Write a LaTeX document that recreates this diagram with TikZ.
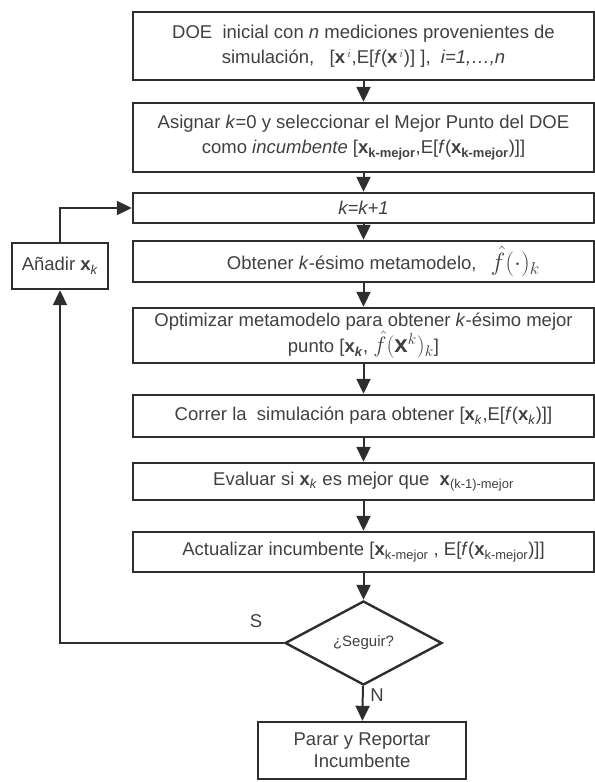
\documentclass[tikz,border=0pt]{standalone}
\usepackage{graphicx}
\usepackage{fontspec}
\setmainfont{Liberation Sans}
\usetikzlibrary{arrows.meta,shapes.geometric}
\definecolor{ln}{HTML}{2e2e2e}
\definecolor{tx}{HTML}{404040}
\newcommand{\bx}{\textbf{x}}
\begin{document}
\begin{tikzpicture}[x=1bp,y=-1bp,
  every node/.style={text=tx,font=\fontsize{18.5bp}{25bp}\selectfont},
  mainbox/.style={draw=ln,line width=2.4bp,minimum width=461bp,inner sep=1bp,align=center},
  sidebox/.style={draw=ln,line width=2.4bp,inner sep=1bp,align=center},
  conn/.style={draw=ln,line width=2bp,-{Triangle[length=15bp,width=14bp]}}]
\useasboundingbox (0,0) rectangle (595,782);
\node[mainbox,minimum height=68bp] (b1) at (363.5,46) {DOE\ \ inicial con \textit{n} mediciones provenientes de\\simulación,\ \ \ [\bx$^{\,i}$,E[\textit{f}(\bx$^{\,i}$)] ],\ \ \textit{i=1,…,n}};
\node[mainbox,minimum height=69bp] (b2) at (363.5,137.5) {Asignar\ \textit{k}=0 y seleccionar el Mejor Punto del DOE\\como \textit{incumbente} [\bx\textsubscript{\textbf{k-mejor}},E[\textit{f}(\bx\textsubscript{\textbf{k-mejor}})]]};
\node[mainbox,minimum height=30bp] (b3) at (363.5,208) {\textit{k=k+1}};
\node[mainbox,minimum height=41bp] (b4) at (363.5,261.5) {\hspace*{40bp}Obtener \textit{k}-ésimo metamodelo,\hspace{14bp}\raisebox{-1bp}{\scalebox{1.45}{$\hat{f}(\cdot)_k$}}};
\node[mainbox,minimum height=55bp] (b5) at (363.5,335.5) {Optimizar metamodelo para obtener \textit{k}-ésimo mejor\\punto [\bx\textsubscript{\textbf{\textit{k}}}, \scalebox{1.3}{$\hat{f}(\mathbf{x}^{k})_k$}]};
\node[mainbox,minimum height=42bp] (b6) at (363.5,416) {Correr la\ \ simulación para obtener [\bx\textsubscript{\textit{k}},E[\textit{f}(\bx\textsubscript{\textit{k}})]]};
\node[mainbox,minimum height=37bp] (b7) at (363.5,481.5) {Evaluar si \bx\textsubscript{\textit{k}} es mejor que\ \ \bx\textsubscript{(k-1)-mejor}};
\node[mainbox,minimum height=40bp] (b8) at (363.5,552) {Actualizar incumbente [\bx\textsubscript{k-mejor} , E[\textit{f}(\bx\textsubscript{k-mejor})]]};
\node[draw=ln,line width=2.4bp,shape=diamond,minimum width=157bp,minimum height=84bp,inner sep=0pt,font=\fontsize{15bp}{17bp}\selectfont] (d) at (363.5,643) {¿Seguir?};
\node[sidebox,minimum width=208bp,minimum height=57bp] (b9) at (362,750.5) {Parar y Reportar\\[-3bp]Incumbente};
\node[sidebox,minimum width=96bp,minimum height=46bp] (add) at (60,266) {Añadir \bx\textsubscript{\textit{k}}};
\node (S) at (256,621) {S};
\node (N) at (377,695) {N};
\coordinate (lb) at (60,643);
\coordinate (lt) at (60,208);
\draw[conn] (b1) -- (b2);
\draw[conn] (b2) -- (b3);
\draw[conn] (b3) -- (b4);
\draw[conn] (b4) -- (b5);
\draw[conn] (b5) -- (b6);
\draw[conn] (b6) -- (b7);
\draw[conn] (b7) -- (b8);
\draw[conn] (b8) -- (d);
\draw[conn] (d) -- (b9);
\draw[conn] (d.west) -- (lb) -- (add.south);
\draw[conn] (add.north) -- (lt) -- (b3.west);
\end{tikzpicture}
\end{document}
